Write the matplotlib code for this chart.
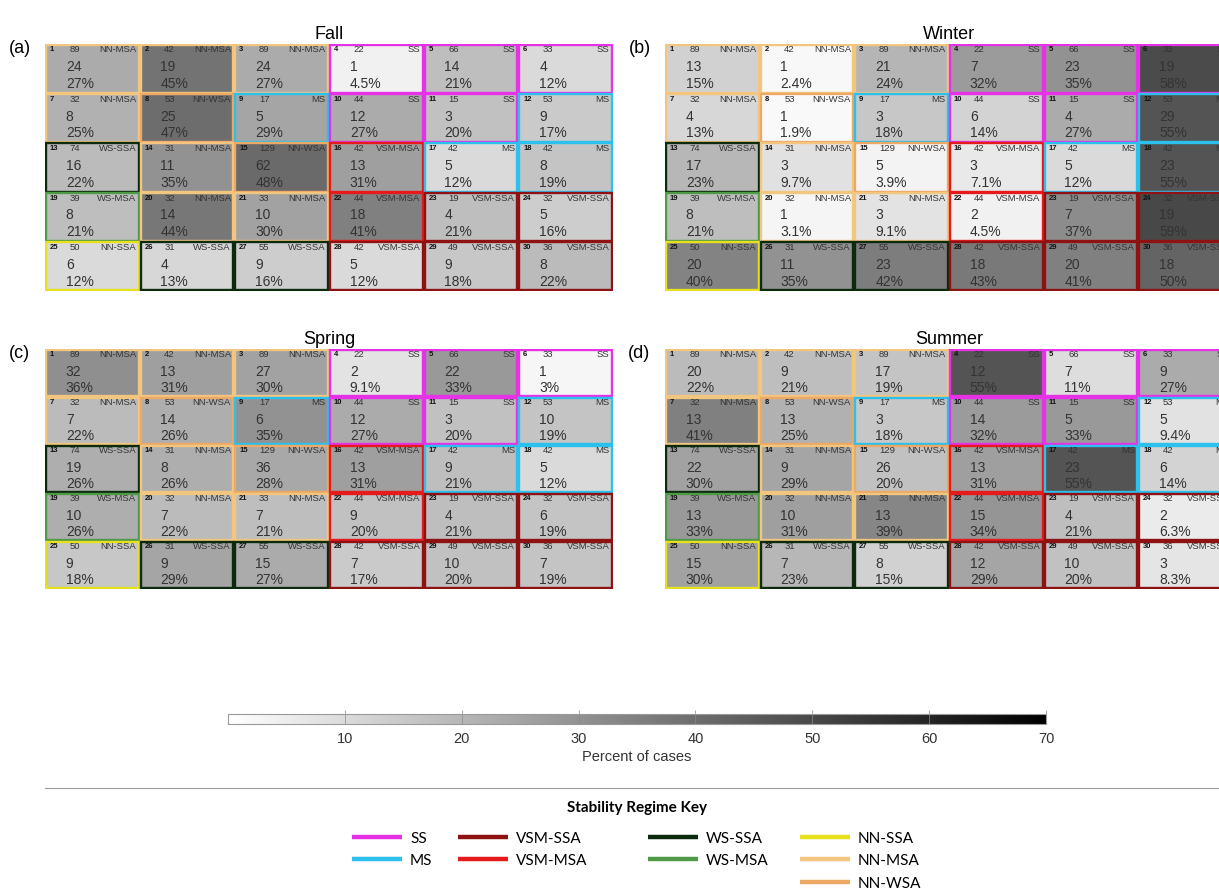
import numpy as np
import matplotlib
matplotlib.use('Agg')
import matplotlib.pyplot as plt
from matplotlib.patches import Rectangle
from matplotlib.colors import Normalize
from matplotlib.cm import ScalarMappable

plt.rcParams['font.family'] = ['Liberation Sans', 'DejaVu Sans']

# node info (same for every season), row-major 5 x 6
totals = [89, 42, 89, 22, 66, 33,
          32, 53, 17, 44, 15, 53,
          74, 31, 129, 42, 42, 42,
          39, 32, 33, 44, 19, 32,
          50, 31, 55, 42, 49, 36]
regimes = ['NN-MSA', 'NN-MSA', 'NN-MSA', 'SS', 'SS', 'SS',
           'NN-MSA', 'NN-WSA', 'MS', 'SS', 'SS', 'MS',
           'WS-SSA', 'NN-MSA', 'NN-WSA', 'VSM-MSA', 'MS', 'MS',
           'WS-MSA', 'NN-MSA', 'NN-MSA', 'VSM-MSA', 'VSM-SSA', 'VSM-SSA',
           'NN-SSA', 'WS-SSA', 'WS-SSA', 'VSM-SSA', 'VSM-SSA', 'VSM-SSA']

fall_counts = [24, 19, 24, 1, 14, 4,
               8, 25, 5, 12, 3, 9,
               16, 11, 62, 13, 5, 8,
               8, 14, 10, 18, 4, 5,
               6, 4, 9, 5, 9, 8]
fall_pct = [27, 45, 27, 4.5, 21, 12,
            25, 47, 29, 27, 20, 17,
            22, 35, 48, 31, 12, 19,
            21, 44, 30, 41, 21, 16,
            12, 13, 16, 12, 18, 22]

winter_counts = [13, 1, 21, 7, 23, 19,
                 4, 1, 3, 6, 4, 29,
                 17, 3, 5, 3, 5, 23,
                 8, 1, 3, 2, 7, 19,
                 20, 11, 23, 18, 20, 18]
winter_pct = [15, 2.4, 24, 32, 35, 58,
              13, 1.9, 18, 14, 27, 55,
              23, 9.7, 3.9, 7.1, 12, 55,
              21, 3.1, 9.1, 4.5, 37, 59,
              40, 35, 42, 43, 41, 50]

spring_counts = [32, 13, 27, 2, 22, 1,
                 7, 14, 6, 12, 3, 10,
                 19, 8, 36, 13, 9, 5,
                 10, 7, 7, 9, 4, 6,
                 9, 9, 15, 7, 10, 7]
spring_pct = [36, 31, 30, 9.1, 33, 3,
              22, 26, 35, 27, 20, 19,
              26, 26, 28, 31, 21, 12,
              26, 22, 21, 20, 21, 19,
              18, 29, 27, 17, 20, 19]

summer_counts = [20, 9, 17, 12, 7, 9,
                 13, 13, 3, 14, 5, 5,
                 22, 9, 26, 13, 23, 6,
                 13, 10, 13, 15, 4, 2,
                 15, 7, 8, 12, 10, 3]
summer_pct = [22, 21, 19, 55, 11, 27,
              41, 25, 18, 32, 33, 9.4,
              30, 29, 20, 31, 55, 14,
              33, 31, 39, 34, 21, 6.3,
              30, 23, 15, 29, 20, 8.3]

regime_colors = {
    'SS': '#e632e6',
    'MS': '#2cc0ec',
    'VSM-SSA': '#8e1212',
    'VSM-MSA': '#e41a1c',
    'WS-SSA': '#0c2a0c',
    'WS-MSA': '#4e9a47',
    'NN-SSA': '#e6e01e',
    'NN-MSA': '#f3c680',
    'NN-WSA': '#eea865',
}
key_columns = [['SS', 'MS'], ['VSM-SSA', 'VSM-MSA'],
               ['WS-SSA', 'WS-MSA'], ['NN-SSA', 'NN-MSA', 'NN-WSA']]

W, H = 1219, 895
cmap = plt.get_cmap('gray_r')
norm = Normalize(0, 70)


def px_axes(fig, x0, y0, x1, y1):
    return fig.add_axes([x0 / W, 1 - y1 / H, (x1 - x0) / W, (y1 - y0) / H])


def draw_panel(ax, counts, pct, title, letter):
    ax.set_xlim(0, 6)
    ax.set_ylim(5, 0)
    ax.axis('off')
    g = 0.012
    for i in range(30):
        r, c = divmod(i, 6)
        fc = cmap(norm(pct[i]))
        ax.add_patch(Rectangle((c + g, r + g), 1 - 2 * g, 1 - 2 * g,
                               facecolor=(fc[0], fc[1], fc[2], 0.85),
                               edgecolor=regime_colors[regimes[i]], lw=1.7))
        ax.text(c + 0.05, r + 0.1, str(i + 1), fontsize=5.5, fontweight='bold',
                ha='left', va='center', color='#111')
        ax.text(c + 0.26, r + 0.1, str(totals[i]), fontsize=6.8,
                ha='left', va='center', color='#333')
        ax.text(c + 0.965, r + 0.1, regimes[i], fontsize=6.8,
                ha='right', va='center', color='#333')
        ax.text(c + 0.22, r + 0.45, str(counts[i]), fontsize=10,
                ha='left', va='center', color='#333')
        ax.text(c + 0.22, r + 0.79, f'{pct[i]:g}%', fontsize=10,
                ha='left', va='center', color='#333')
    ax.text(3, -0.04, title, fontsize=13, ha='center', va='bottom')
    ax.text(-0.045, 0.985, letter, fontsize=13, ha='center', va='center',
            transform=ax.transAxes)


fig = plt.figure(figsize=(W / 100, H / 100), dpi=100)

draw_panel(px_axes(fig, 45, 45, 613, 292), fall_counts, fall_pct, 'Fall', '(a)')
draw_panel(px_axes(fig, 665, 45, 1233, 292), winter_counts, winter_pct, 'Winter', '(b)')
draw_panel(px_axes(fig, 45, 350, 613, 590), spring_counts, spring_pct, 'Spring', '(c)')
draw_panel(px_axes(fig, 665, 350, 1233, 590), summer_counts, summer_pct, 'Summer', '(d)')

# colorbar
cax = px_axes(fig, 228, 715, 1046, 725)
cb = fig.colorbar(ScalarMappable(norm=norm, cmap=cmap), cax=cax,
                  orientation='horizontal', ticks=np.arange(10, 71, 10))
cb.outline.set_edgecolor('#999999')
cb.outline.set_linewidth(0.8)
cax.tick_params(direction='in', length=10, width=0.5, color='#888888',
                labelsize=10.5, labelcolor='#333', pad=5)
cb.set_label('Percent of cases', fontsize=10.5, color='#333', labelpad=3)

# regime key
ov = fig.add_axes([0, 0, 1, 1])
ov.set_xlim(0, W)
ov.set_ylim(H, 0)
ov.axis('off')
ov.plot([45, W], [789, 789], color='#9a9a9a', lw=0.8)
ov.text(637, 808, 'Stability Regime Key', fontsize=11, fontweight='bold',
        ha='center', va='center', family=['Lato', 'DejaVu Sans'])
col_x = [352, 458, 648, 800]
row_y = [838, 860, 883]
for x0, names in zip(col_x, key_columns):
    for y0, name in zip(row_y, names):
        ov.plot([x0, x0 + 50], [y0, y0], color=regime_colors[name], lw=3.2,
                solid_capstyle='butt')
        ov.text(x0 + 58, y0 + 1, name, fontsize=11, ha='left', va='center',
                family=['Lato', 'DejaVu Sans'])

fig.savefig('out.png', dpi=100)
